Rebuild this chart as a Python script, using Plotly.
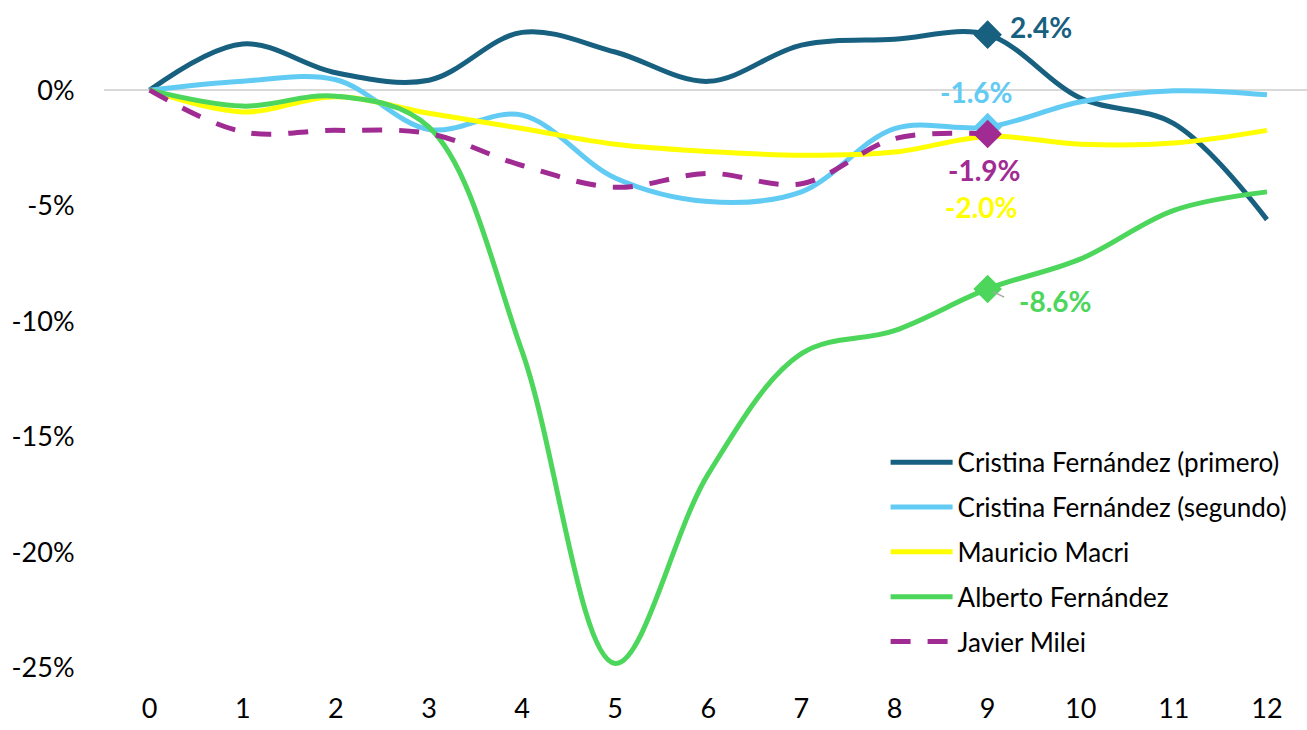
import plotly.graph_objects as go

months = list(range(13))

cf_primero = [0, 2.0, 0.75, 0.43, 2.5, 1.65, 0.38, 1.95, 2.2, 2.4, -0.35, -1.45, -5.6]
cf_segundo = [0, 0.39, 0.45, -1.7, -1.08, -3.8, -4.82, -4.4, -1.66, -1.6, -0.5, -0.03, -0.2]
macri = [0, -0.94, -0.29, -1.0, -1.66, -2.34, -2.65, -2.82, -2.68, -2.0, -2.34, -2.29, -1.74]
alberto = [0, -0.69, -0.26, -1.6, -11.3, -24.8, -16.6, -11.4, -10.4, -8.6, -7.3, -5.2, -4.4]
milei = [0, -1.8, -1.74, -1.88, -3.26, -4.2, -3.6, -4.05, -2.1, -1.9]

names = ["Cristina Fernández (primero)", "Cristina Fernández (segundo)",
         "Mauricio Macri", "Alberto Fernández", "Javier Milei"]
series = [cf_primero, cf_segundo, macri, alberto, milei]
colors = ["#17607F", "#62CBF3", "#FFFF00", "#4CD65B", "#A02B93"]
dashes = ["solid", "solid", "solid", "solid", "20px,17px"]

y_tickvals = [0, -5, -10, -15, -20, -25]
y_ticktext = ["0%", "-5%", "-10%", "-15%", "-20%", "-25%"]

FONT = "Lato, 'Open Sans', sans-serif"

fig = go.Figure()
for i, (nm, ys, c, d) in enumerate(zip(names, series, colors, dashes)):
    fig.add_trace(go.Scatter(
        x=months[:len(ys)], y=ys, name=nm, mode="lines",
        line=dict(color=c, width=5, dash=d, shape="spline", smoothing=1),
        legendgroup=str(i), hoverinfo="skip"))

# highlighted markers at month 9
marker_idx = 9
for ys, c, show in zip(series, colors, [True, True, False, True, True]):
    if show:
        fig.add_trace(go.Scatter(
            x=[months[marker_idx]], y=[ys[marker_idx]], mode="markers",
            marker=dict(symbol="diamond", size=22, color=c),
            showlegend=False, hoverinfo="skip"))

# labels (xshift, yshift, xanchor)
label_pos = [(20, 8, "left"), (-11, 35, "center"), (-6, -71, "center"),
             (29, -12, "left"), (-3, -36, "center")]
for ys, c, (dx, dy, xa) in zip(series, colors, label_pos):
    v = ys[marker_idx]
    fig.add_annotation(
        x=months[marker_idx], y=v, text=f"<b>{v:.1f}%</b>", showarrow=False,
        xanchor=xa, yanchor="middle", xshift=dx, yshift=dy,
        font=dict(family=FONT, size=28, color=c))

# leader line for Alberto label
fig.add_annotation(
    x=months[marker_idx], y=alberto[marker_idx], ax=18, ay=9,
    axref="pixel", ayref="pixel", text="", showarrow=True,
    arrowhead=0, arrowwidth=1.5, arrowcolor="#A6A6A6", standoff=6)

fig.update_layout(
    width=1307, height=730,
    margin=dict(l=104, r=0, t=0, b=40, autoexpand=False),
    paper_bgcolor="white", plot_bgcolor="white",
    font=dict(family=FONT, size=27, color="#000000"),
    showlegend=True,
    legend=dict(x=0.6497, y=0.364, xanchor="left", yanchor="top",
                font=dict(family=FONT, size=26, color="#000000"),
                itemwidth=62, tracegroupgap=8, bgcolor="rgba(0,0,0,0)"),
    xaxis=dict(range=[-0.49, 12.43], tickvals=months, showgrid=False,
               zeroline=False, showline=False, ticks="", automargin=False,
               tickfont=dict(size=27)),
    yaxis=dict(range=[-25.95, 3.9], tickvals=y_tickvals, ticktext=y_ticktext,
               showgrid=False, zeroline=True, zerolinecolor="#D9D9D9",
               zerolinewidth=2, showline=False, ticks="outside", ticklen=23,
               automargin=False,
               tickcolor="rgba(0,0,0,0)", tickfont=dict(size=27)),
)

fig.write_html("out.html", config={"displayModeBar": False},
               post_script="document.body.style.margin='0';")
